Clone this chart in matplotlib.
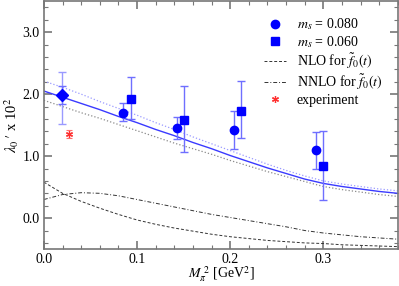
import numpy as np
import matplotlib.pyplot as plt
from matplotlib.lines import Line2D

plt.rcParams['font.family'] = ['Liberation Serif', 'DejaVu Serif']
plt.rcParams['mathtext.fontset'] = 'stix'

# lattice points, m_s = 0.080 (circles)
x_080 = [0.0853, 0.1434, 0.2046, 0.2920]
y_080 = [1.70, 1.46, 1.42, 1.10]
lo_080 = [1.56, 1.28, 1.12, 0.80]
hi_080 = [1.85, 1.63, 1.72, 1.39]

# lattice points, m_s = 0.060 (squares)
x_060 = [0.0932, 0.1505, 0.2118, 0.2996]
y_060 = [1.92, 1.59, 1.73, 0.84]
lo_060 = [1.60, 1.06, 1.30, 0.29]
hi_060 = [2.27, 2.13, 2.21, 1.41]

# extrapolated point
x_ext = 0.0194
y_ext = 1.98
ext_inner = (1.84, 2.13)
ext_outer = (1.52, 2.35)

# experiment
x_exp = 0.0272
y_exp = 1.36
err_exp = 0.06

# curves
x_curve = [0.00, 0.02, 0.04, 0.06, 0.08, 0.10, 0.12, 0.14, 0.16, 0.18,
           0.20, 0.22, 0.24, 0.26, 0.28, 0.30, 0.32, 0.34, 0.36, 0.38]
fit = [2.05, 1.95, 1.85, 1.75, 1.64, 1.54, 1.43, 1.33, 1.22, 1.12,
       1.01, 0.91, 0.81, 0.72, 0.63, 0.56, 0.51, 0.47, 0.43, 0.40]
fit_hi = [2.21, 2.11, 2.00, 1.88, 1.77, 1.66, 1.54, 1.43, 1.31, 1.20,
          1.09, 0.98, 0.87, 0.77, 0.68, 0.60, 0.55, 0.51, 0.47, 0.44]
fit_lo = [1.90, 1.80, 1.70, 1.61, 1.51, 1.41, 1.31, 1.21, 1.12, 1.03,
          0.93, 0.84, 0.75, 0.67, 0.59, 0.51, 0.46, 0.42, 0.38, 0.35]
nlo = [0.58, 0.40, 0.27, 0.16, 0.06, -0.03, -0.10, -0.16, -0.21, -0.26,
       -0.30, -0.33, -0.36, -0.38, -0.40, -0.41, -0.43, -0.44, -0.45, -0.46]
nnlo = [0.30, 0.38, 0.41, 0.40, 0.36, 0.30, 0.24, 0.18, 0.12, 0.06,
        0.01, -0.04, -0.09, -0.14, -0.20, -0.24, -0.27, -0.30, -0.32, -0.34]

fig = plt.figure(figsize=(3.99, 2.86), dpi=100)
ax = fig.add_axes([0.110, 0.129, 0.887, 0.867])

ax.plot(x_curve, fit_hi, ':', color='#9a9aff', lw=0.9)
ax.plot(x_curve, fit_lo, ':', color='#8a8a8a', lw=0.9)
ax.plot(x_curve, fit, '-', color='#3a3aff', lw=1.0)
ax.plot(x_curve, nlo, '--', color='#333333', lw=0.7, dashes=(3, 2))
ax.plot(x_curve, nnlo, '-.', color='#333333', lw=0.7, dashes=(4, 2, 1, 2))

ecol = '#6f6fff'
ax.errorbar(x_080, y_080,
            yerr=[np.array(y_080) - lo_080, np.array(hi_080) - y_080],
            fmt='o', color='blue', ms=6, ecolor=ecol, elinewidth=1.0,
            capsize=3, capthick=1.0)
ax.errorbar(x_060, y_060,
            yerr=[np.array(y_060) - lo_060, np.array(hi_060) - y_060],
            fmt='s', color='blue', ms=5.5, ecolor=ecol, elinewidth=1.0,
            capsize=3, capthick=1.0)
ax.errorbar([x_ext], [y_ext],
            yerr=[[y_ext - ext_outer[0]], [ext_outer[1] - y_ext]],
            fmt='none', ecolor='#9a9aff', elinewidth=1.0, capsize=3, capthick=1.0)
ax.errorbar([x_ext], [y_ext],
            yerr=[[y_ext - ext_inner[0]], [ext_inner[1] - y_ext]],
            fmt='D', color='blue', ms=6, ecolor=ecol, elinewidth=1.0,
            capsize=3, capthick=1.0)
ax.errorbar([x_exp], [y_exp], yerr=err_exp, fmt='none',
            ecolor='#ff7070', elinewidth=0.8, capsize=2.5, capthick=0.8)
ax.plot([x_exp], [y_exp], marker=(6, 2, 0), color='#ff3030', ms=5,
        mew=0.9, ls='none')

handles = [
    Line2D([], [], marker='o', color='blue', ms=6, ls='none'),
    Line2D([], [], marker='s', color='blue', ms=5.5, ls='none'),
    Line2D([], [], color='#333333', lw=0.7, ls='--', dashes=(3, 2)),
    Line2D([], [], color='#333333', lw=0.7, ls='-.', dashes=(4, 2, 1, 2)),
    Line2D([], [], marker=(6, 2, 0), color='#ff3030', ms=5, mew=0.9, ls='none'),
]
labels = [r'$m_s$ = 0.080', r'$m_s$ = 0.060', r'NLO for $\tilde{f}_0(t)$',
          r'NNLO for $\tilde{f}_0(t)$', 'experiment']

ax.set_xlim(0, 0.38)
ax.set_ylim(-0.5, 3.5)
ax.set_xticks([0.0, 0.1, 0.2, 0.3])
ax.set_xticklabels(['0.0', '0.1', '0.2', '0.3'])
ax.set_xticks(np.arange(0, 0.381, 0.02), minor=True)
ax.set_yticks([0.0, 1.0, 2.0, 3.0])
ax.set_yticklabels(['0.0', '1.0', '2.0', '3.0'])
ax.set_yticks(np.arange(-0.4, 3.5, 0.2), minor=True)
ax.tick_params(which='both', direction='in', top=True, right=True,
               labelsize=10, color='#777777')
ax.tick_params(which='major', length=6, width=1.2, pad=3)
ax.tick_params(which='minor', length=3, width=0.8)
for s in ax.spines.values():
    s.set_color('#777777')
    s.set_linewidth(1.2)

ax.set_xlabel(r'$M_\pi^{\ 2}$ [GeV$^2$]', fontsize=10, labelpad=-1)
ax.set_ylabel(r'$\lambda_0\,\prime$ x 10$^2$', fontsize=10.5, labelpad=1)

ax.legend(handles, labels, loc='upper right', frameon=False, fontsize=10,
          handlelength=1.6, handletextpad=0.8, labelspacing=0.12,
          borderaxespad=0.7, numpoints=1)

fig.savefig('out.png', dpi=100)
